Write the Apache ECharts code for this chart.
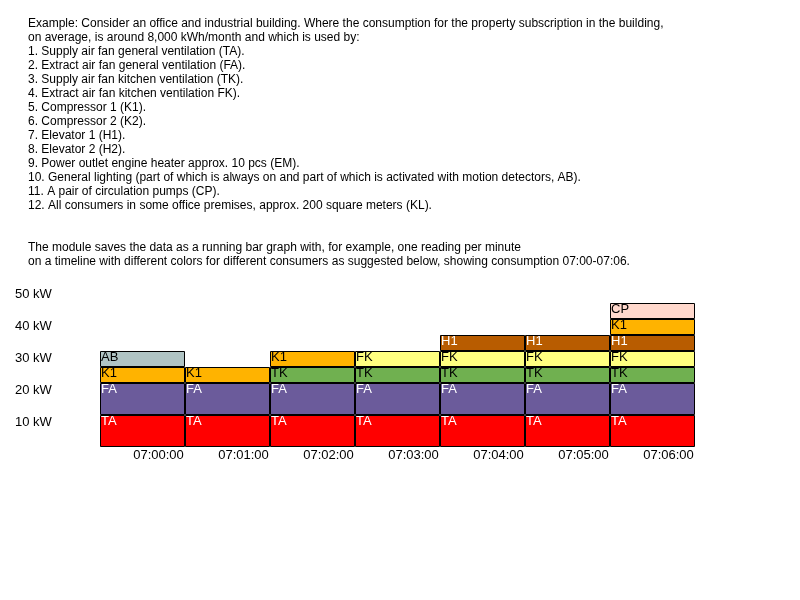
<!DOCTYPE html>
<html><head><meta charset="utf-8">
<script src="https://cdn.jsdelivr.net/npm/echarts@6/dist/echarts.min.js"></script>
<style>html,body{margin:0;padding:0;background:#fff}#c{width:800px;height:600px}</style>
</head><body><div id="c"></div>
<script>
const categories = ['07:00:00','07:01:00','07:02:00','07:03:00','07:04:00','07:05:00','07:06:00'];
const TA  = [10,10,10,10,10,10,10];
const FA  = [10,10,10,10,10,10,10];
const K1a = [5,5,null,null,null,null,null];
const TK  = [null,null,5,5,5,5,5];
const FK  = [null,null,null,5,5,5,5];
const H1  = [null,null,null,null,5,5,5];
const K1b = [null,null,5,null,null,null,5];
const AB  = [5,null,null,null,null,null,null];
const CP  = [null,null,null,null,null,null,5];
const yTicks = [0,10,20,30,40,50];
const introText = [
'Example: Consider an office and industrial building. Where the consumption for the property subscription in the building,',
'on average, is around 8,000 kWh/month and which is used by:',
'1. Supply air fan general ventilation (TA).',
'2. Extract air fan general ventilation (FA).',
'3. Supply air fan kitchen ventilation (TK).',
'4. Extract air fan kitchen ventilation FK).',
'5. Compressor 1 (K1).',
'6. Compressor 2 (K2).',
'7. Elevator 1 (H1).',
'8. Elevator 2 (H2).',
'9. Power outlet engine heater approx. 10 pcs (EM).',
'10. General lighting (part of which is always on and part of which is activated with motion detectors, AB).',
'11. A pair of circulation pumps (CP).',
'12. All consumers in some office premises, approx. 200 square meters (KL).',
'',
'',
'The module saves the data as a running bar graph with, for example, one reading per minute',
'on a timeline with different colors for different consumers as suggested below, showing consumption 07:00-07:06.'
].join('\n');

function s(name, data, color, labelColor){
  return {name, type:'bar', stack:'a', data, barWidth:'100%', barCategoryGap:'0%',
    itemStyle:{color, borderColor:'#000', borderWidth:1},
    label:{show:true, position:'insideTopLeft', distance:1, formatter:name.replace(/[ab]$/,''), color:labelColor,
      fontSize:13, fontFamily:'Liberation Sans', padding:[0,0,0,0], offset:[0,-1]}};
}
const chart = echarts.init(document.getElementById('c'));
chart.setOption({
  animation:false,
  title:{text:introText, left:23, top:12, textStyle:{fontSize:12, fontWeight:'normal', color:'#000', fontFamily:'Liberation Sans', lineHeight:14}},
  grid:{left:100, right:105, top:287, bottom:153},
  xAxis:{type:'category', data:categories, axisLine:{show:false}, axisTick:{show:false},
    axisLabel:{color:'#000', fontSize:13, fontFamily:'Liberation Sans', margin:2, padding:[0,0,0,32]}},
  yAxis:{type:'value', min:0, max:50, interval:10, splitLine:{show:false}, axisLine:{show:false}, axisTick:{show:false},
    axisLabel:{color:'#000', fontSize:13, fontFamily:'Liberation Sans', align:'left', margin:85, verticalAlign:'top', padding:[1,0,0,0],
      formatter:v=> yTicks.includes(v) && v>0 ? v+' kW' : ''}},
  series:[
    s('TA',TA,'#ff0000','#fff'),
    s('FA',FA,'#6b5b9b','#fff'),
    s('K1a',K1a,'#ffb300','#000'),
    s('TK',TK,'#70b050','#000'),
    s('FK',FK,'#ffff80','#000'),
    s('H1',H1,'#b85c00','#fff'),
    s('K1b',K1b,'#ffb300','#000'),
    s('AB',AB,'#b0c4c4','#000'),
    s('CP',CP,'#ffd8cc','#000')
  ]
});
</script></body></html>
